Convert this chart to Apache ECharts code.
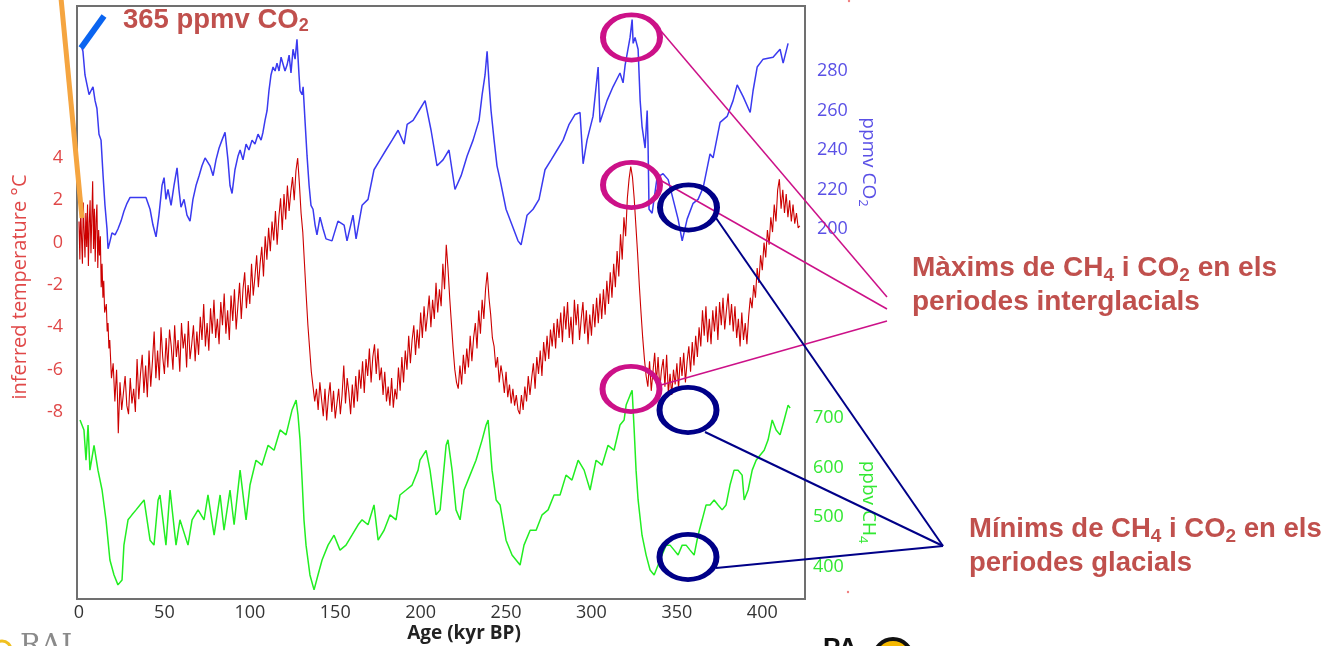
<!DOCTYPE html>
<html><head><meta charset="utf-8">
<script src="https://cdn.jsdelivr.net/npm/echarts@6/dist/echarts.min.js"></script>
<style>html,body{margin:0;padding:0;background:#fff}#c{width:1329px;height:646px}</style>
</head><body><div id="c"></div>
<script>
// ---- data: [age kyr BP, value] ----
const ageTicks = [0,50,100,150,200,250,300,350,400];
const tempTicks = [-8,-6,-4,-2,0,2,4];
const co2Ticks = [200,220,240,260,280];
const ch4Ticks = [400,500,600,700];

const co2Data = [[1.2,293],[2.3,290],[3.5,278],[4.7,273],[5.9,268],[7.0,270],[8.2,272],[9.4,265],[10.5,261],[11.7,248],[12.9,245],[14.1,227],[15.2,212],[16.4,200],[17.0,190],[18.2,194],[19.3,198],[21.1,197],[22.8,200],[24.6,204],[26.3,209],[28.1,213],[29.9,216],[34.5,216],[39.2,216],[41.6,210],[43.3,202],[45.1,196],[46.8,207],[48.6,222],[49.8,226],[50.9,215],[52.1,220],[53.9,212],[55.6,222],[57.4,231],[58.5,220],[59.7,211],[61.5,215],[63.2,207],[65.0,204],[66.7,215],[68.5,222],[70.3,227],[72.0,232],[73.8,236],[74.9,237],[76.7,232],[78.5,227],[80.2,235],[82.0,241],[83.7,245],[85.5,249],[87.2,235],[88.4,222],[89.6,218],[91.3,230],[93.1,237],[94.3,240],[96.0,235],[97.8,243],[99.5,240],[101.3,245],[103.0,243],[104.8,248],[106.6,245],[107.7,249],[108.9,255],[110.1,260],[111.2,270],[112.4,278],[113.6,282],[114.8,280],[115.9,284],[117.1,280],[118.3,287],[119.4,286],[120.6,280],[121.8,283],[123.0,288],[124.1,279],[125.3,291],[126.5,286],[127.6,296],[128.8,278],[129.4,270],[130.6,268],[131.2,272],[132.3,255],[133.5,237],[134.7,222],[135.8,212],[137.0,210],[138.2,202],[139.3,197],[141.1,206],[142.9,200],[144.6,195],[148.1,194],[151.6,204],[155.2,202],[156.9,194],[160.4,207],[162.2,195],[165.7,212],[169.2,215],[172.7,230],[176.2,235],[179.7,240],[183.3,245],[186.8,250],[190.3,243],[192.1,253],[195.6,255],[199.1,260],[202.6,265],[206.1,250],[209.6,232],[213.1,235],[216.6,240],[220.1,220],[223.7,227],[227.2,237],[230.7,245],[234.2,255],[236.0,268],[237.7,278],[238.9,290],[240.1,273],[241.2,260],[243.0,245],[244.7,232],[246.5,225],[250.0,210],[253.5,202],[257.0,194],[258.8,192],[262.3,207],[265.8,210],[269.3,215],[272.8,230],[276.4,235],[279.9,240],[283.4,245],[286.9,253],[290.4,258],[293.3,259],[295.1,233],[297.4,245],[300.9,257],[303.9,282],[305.0,254],[309.1,265],[312.6,272],[316.7,279],[318.5,274],[319.7,283],[322.6,297],[323.8,306],[324.4,294],[325.5,297],[327.3,291],[328.5,265],[329.6,252],[331.4,241],[332.6,260],[333.1,244],[333.7,210],[335.5,208],[338.4,226],[341.9,228],[344.9,225],[347.8,215],[350.7,205],[353.1,194],[356.0,205],[359.5,213],[362.4,215],[365.4,221],[369.4,238],[371.2,236],[375.3,254],[379.4,257],[382.9,265],[385.3,273],[388.8,267],[392.9,259],[394.6,270],[397.0,282],[400.5,286],[406.3,287],[410.4,291],[412.2,284],[415.1,294]];

const tempData = [[0,1.0],[0.5,-0.8],[1,1.6],[1.5,0.2],[2,-1.0],[2.5,1.9],[3,0.6],[3.5,-0.7],[4,1.4],[4.5,-0.2],[5,1.8],[5.5,-1.1],[6,0.9],[6.5,2.0],[7,-0.5],[7.5,1.2],[8,2.9],[8.5,-0.3],[9,1.6],[9.5,-0.9],[10,1.1],[10.5,1.8],[11,-1.2],[11.5,0.6],
[12,-0.6],[12.5,0.3],[13,-2.1],[13.5,-1.0],[14,-2.6],[14.5,-1.8],[15,-3.3],[16,-2.9],[16.5,-4.2],[17,-3.8],[17.5,-5.0],[18,-4.6],
[19,-6.4],[20,-5.7],[21,-7.5],[22,-6.0],[22.5,-7.2],[23,-9.0],[24,-6.6],[25,-7.9],[26,-7.1],[27,-6.3],[28,-7.7],[29,-8.1],[30,-6.4],[31,-7.6],[32,-6.9],[33,-8.0],
[34,-5.5],[35,-7.4],[36,-6.2],[37,-5.3],[38,-7.1],[39,-5.8],[40,-7.3],[41,-5.1],[42,-6.8],[43,-5.6],
[44,-4.2],[45,-6.4],[46,-5.1],[47,-6.5],[48,-4.0],[49,-5.4],[50,-6.2],[51,-4.5],[52,-5.9],[53,-4.1],[54,-4.9],[55,-6.0],[56,-3.9],[57,-5.4],[58,-4.6],[59,-6.1],[60,-3.8],[61,-5.0],[62,-4.3],[63,-5.9],[64,-3.7],[65,-5.5],[66,-4.8],[67,-3.9],[68,-5.6],[69,-4.2],[70,-5.3],[71,-3.5],
[72,-4.6],[73,-2.9],[74,-4.9],[75,-3.8],[76,-5.1],[77,-3.1],[78,-4.3],[79,-2.7],[80,-4.5],[81,-3.6],[82,-4.8],[83,-2.8],[84,-3.9],[85,-2.4],[86,-4.3],[87,-3.2],[88,-4.6],[89,-2.5],[90,-3.7],[91,-2.2],[92,-4.1],[93,-3.0],[94,-1.9],
[95,-3.6],[96,-2.2],[97,-1.4],[98,-3.1],[99,-2.0],[100,-2.9],[101,-1.0],[102,-2.5],[103,-1.6],[104,-0.6],[105,-2.1],[106,-1.0],[107,-0.2],[108,-1.6],[109,0.3],[110,-0.8],[111,0.7],[112,-0.4],[113,1.0],[114,0.1],[115,1.5],[116,-0.1],[117,1.2],[118,2.1],[119,0.6],[120,2.3],[121,1.1],[122,2.7],[123,1.5],[124,2.4],[125,3.1],[126,2.0],[127,3.4],[128,4.0],
[129,2.8],[130,1.4],[131,0.5],[132,-1.0],[133,-2.5],[134,-3.9],[135,-5.0],[136,-6.1],[137,-6.8],[138,-7.5],[139,-6.9],
[140,-7.9],[141,-6.6],[142,-7.4],[143,-8.2],[144,-6.9],[145,-8.4],[146,-7.3],[147,-6.6],[148,-8.0],[149,-7.0],[150,-8.3],[151,-7.6],[152,-6.9],[153,-8.1],[154,-7.2],[155,-5.8],[156,-7.6],[157,-6.4],[158,-7.1],[159,-8.1],[160,-6.7],[161,-7.8],[162,-6.3],[163,-7.5],[164,-6.0],[165,-6.9],[166,-5.6],[167,-7.1],[168,-5.5],[169,-6.3],[170,-5.0],[171,-6.6],[172,-5.4],[173,-4.8],[174,-6.2],[175,-5.0],[176,-6.5],[177,-5.9],[178,-7.2],[179,-6.1],[180,-7.5],[181,-6.8],[182,-7.7],[183,-6.4],[184,-7.8],[185,-6.9],[186,-7.4],[187,-5.9],[188,-7.0],
[189,-5.4],[190,-6.6],[191,-5.1],[192,-6.0],[193,-4.4],[194,-5.7],[195,-4.6],[196,-3.9],[197,-5.3],[198,-4.1],[199,-5.0],[200,-3.3],[201,-4.5],[202,-3.0],[203,-4.2],[204,-3.4],[205,-2.5],[206,-4.0],[207,-2.7],[208,-3.6],[209,-1.9],[210,-3.3],[211,-2.2],[212,-3.0],[213,-1.0],[214,-2.2],[215,-0.1],
[216,-1.2],[217,-2.6],[218,-3.8],[219,-5.0],[220,-6.0],[221,-6.6],[222,-6.9],[223,-5.8],[224,-6.7],[225,-5.3],[226,-6.2],[227,-5.0],[228,-5.9],[229,-4.4],[230,-5.6],[231,-4.5],[232,-3.8],[233,-5.0],[234,-3.2],[235,-4.3],[236,-2.7],[237,-3.6],[238,-2.2],[239,-1.4],
[240,-2.6],[241,-3.4],[242,-4.5],[243,-4.9],[244,-5.9],[245,-5.4],[246,-6.6],[247,-5.8],[248,-6.3],[249,-7.1],[250,-6.1],[251,-7.3],[252,-6.7],[253,-7.6],[254,-6.9],[255,-7.7],[256,-7.2],[257,-7.9],[258,-8.1],
[259,-7.2],[260,-7.9],[261,-6.8],[262,-7.5],[263,-6.3],[264,-7.2],[265,-6.4],[266,-5.7],[267,-6.9],[268,-5.4],[269,-6.2],[270,-5.1],[271,-6.3],[272,-4.7],[273,-5.6],[274,-4.4],[275,-5.5],[276,-4.1],[277,-4.9],[278,-3.8],[279,-5.0],[280,-3.6],[281,-4.5],[282,-3.3],
[283,-4.7],[284,-3.0],[285,-4.1],[286,-2.8],[287,-4.5],[288,-3.5],[289,-4.8],[290,-2.7],[291,-3.9],[292,-2.9],[293,-4.6],[294,-3.6],[295,-2.8],[296,-4.3],[297,-3.2],[298,-4.8],[299,-3.4],[300,-4.4],[301,-2.9],[302,-4.0],[303,-2.6],[304,-3.8],[305,-2.4],
[306,-3.6],[307,-2.2],[308,-3.4],[309,-1.8],[310,-2.9],[311,-1.4],[312,-2.6],[313,-1.0],[314,-2.1],[315,-0.4],[316,-1.6],[317,0.4],[318,-0.8],[319,1.2],[320,0.3],[321,2.1],[322,3.0],[323,3.6],[324,3.1],[325,2.1],[326,0.8],[327,-0.5],[328,-2.0],[329,-3.3],[330,-4.5],[331,-5.5],[332,-6.3],[333,-6.8],
[334,-5.6],[335,-7.0],[336,-6.1],[337,-5.2],[338,-6.6],[339,-5.4],[340,-6.9],[341,-6.0],[342,-5.5],[343,-6.8],[344,-5.3],[345,-7.1],[346,-6.2],[347,-7.2],[348,-6.0],[349,-6.7],[350,-5.7],[351,-6.9],[352,-5.4],[353,-6.3],[354,-5.2],[355,-6.6],[356,-5.6],[357,-4.9],[358,-6.1],[359,-4.7],[360,-5.8],[361,-4.4],[362,-5.4],[363,-4.0],
[364,-4.9],[365,-3.2],[366,-4.4],[367,-3.0],[368,-4.7],[369,-3.6],[370,-4.8],[371,-3.2],[372,-4.2],[373,-3.0],[374,-4.6],[375,-2.8],[376,-3.9],[377,-2.6],[378,-4.1],[379,-3.2],[380,-2.4],[381,-3.9],[382,-2.9],[383,-4.2],[384,-3.0],[385,-4.5],[386,-3.6],[387,-4.9],[388,-3.3],[389,-4.6],[390,-3.8],[391,-4.8],[392,-3.5],
[393,-2.6],[394,-3.1],[395,-2.0],[396,-2.6],[397,-1.2],[398,-1.9],[399,-0.6],[400,-1.3],[401,0.0],[402,-0.7],[403,0.6],[404,-0.1],[405,1.2],[406,0.5],[407,1.8],[408,1.0],[409,2.5],[410,3.0],[411,1.6],[412,2.5],[413,1.4],[414,2.3],[415,1.2],[416,2.0],[417,1.0],[418,1.8],[419,0.9],[420,1.4],[421,0.7],[422,0.8]];

const ch4Data = [[0.6,696],[2.9,676],[4.1,615],[5.3,686],[6.4,595],[8.8,645],[11.1,595],[13.5,555],[15.8,495],[18.1,414],[20.5,384],[22.8,364],[25.2,374],[26.3,444],[28.7,495],[31.0,505],[33.4,515],[35.7,525],[38.1,535],[41.6,454],[43.9,444],[46.3,535],[47.4,545],[50.9,444],[53.3,555],[56.8,444],[59.1,495],[63.8,444],[66.2,495],[69.7,515],[73.2,495],[75.5,545],[79.1,464],[82.6,545],[84.9,474],[88.4,555],[90.8,485],[94.3,595],[97.8,495],[100.1,565],[103.6,615],[107.1,605],[110.7,645],[114.2,635],[117.7,676],[121.2,666],[124.7,716],[127.1,736],[128.2,706],[129.4,656],[130.6,575],[131.7,495],[132.9,444],[135.2,384],[137.6,354],[139.9,384],[142.3,414],[145.8,444],[149.3,464],[152.8,434],[156.3,444],[159.8,464],[163.4,485],[165.7,495],[169.2,485],[172.7,525],[175.1,454],[178.6,474],[182.1,505],[185.6,495],[187.9,545],[191.5,555],[195.0,565],[198.5,595],[199.6,615],[203.2,635],[205.5,595],[209.0,505],[211.4,515],[214.9,645],[216.0,656],[218.4,595],[220.7,515],[223.1,495],[225.4,555],[228.9,585],[232.4,615],[236.0,656],[238.3,686],[239.5,696],[241.8,595],[244.2,535],[246.5,525],[250.0,454],[253.5,424],[258.2,404],[260.5,444],[264.1,474],[267.6,474],[271.1,505],[274.6,515],[278.1,545],[281.6,545],[285.1,585],[288.6,575],[292.2,615],[295.7,595],[299.2,555],[302.7,615],[306.2,605],[309.7,645],[313.2,635],[316.7,686],[319.1,696],[320.3,726],[322.6,746],[323.8,756],[325.0,676],[326.1,595],[327.3,535],[329.6,464],[332.0,424],[334.3,394],[336.7,384],[339.0,404],[341.3,424],[343.7,444],[346.0,444],[348.4,434],[350.7,424],[353.1,444],[355.4,444],[357.7,434],[360.1,424],[362.4,464],[364.8,495],[367.1,525],[369.4,525],[371.8,535],[374.1,525],[376.5,515],[378.8,525],[381.1,565],[383.5,595],[385.8,595],[388.2,585],[389.4,535],[391.7,555],[394.1,595],[396.4,615],[398.7,625],[401.1,635],[403.4,656],[405.8,696],[408.1,676],[410.4,666],[412.8,696],[415.1,726],[416.3,720]];

// ---- layout ----
const L = 79, R = 1329 - 805, AGE_MAX = 425;
const cRed = '#cc0000', cBlue = '#3a3af0', cGreen = '#22ee22';
const cRedLab = '#e04848', cBlueLab = '#5a50e6', cGreenLab = '#33e833';
const cNote = '#c0504d', cMag = '#cc1188', cNavy = '#000088';
const tickFont = 'Open Sans';

function hiddenX(gi){ return {type:'value', gridIndex:gi, min:0, max:AGE_MAX, show:false}; }
function yAx(gi, min, max, interval, pos, color, margin){
  return {type:'value', gridIndex:gi, min, max, interval, position:pos,
    axisLine:{show:false}, axisTick:{show:false}, splitLine:{show:false},
    axisLabel:{color, fontSize:18, fontFamily:tickFont, margin}};
}
function ellipse(cx, cy, color){
  return {type:'circle', x:cx, y:cy, scaleX:1, scaleY:0.79, z:50,
    shape:{cx:0, cy:0, r:28.5},
    style:{fill:'none', stroke:color, lineWidth:6, strokeNoScale:true}};
}
function seg(x1,y1,x2,y2,color,w){
  return {type:'line', z:49, shape:{x1,y1,x2,y2}, style:{stroke:color, lineWidth:w}};
}
function noteRich(size){
  return {
    a:{fontSize:size, fontWeight:'bold', fontFamily:'Liberation Sans', fill:cNote, lineHeight:34},
    s:{fontSize:19, fontWeight:'bold', fontFamily:'Liberation Sans', fill:cNote, lineHeight:16, verticalAlign:'bottom'}
  };
}

const chart = echarts.init(document.getElementById('c'), null, {renderer:'canvas'});
chart.setOption({
  animation:false,
  backgroundColor:'#fff',
  grid:[
    {left:L, right:R, top:6, bottom:47},
    {left:L, right:R, top:158, height:254},
    {left:L, right:R, top:71, height:158},
    {left:L, right:R, top:418, height:149}
  ],
  xAxis:[
    {type:'value', gridIndex:0, min:0, max:AGE_MAX, interval:50,
      axisLine:{show:false}, axisTick:{show:false}, splitLine:{show:false},
      axisLabel:{color:'#333', fontSize:18, fontFamily:tickFont, margin:5,
        formatter:v => ageTicks.includes(v) ? String(v) : ''}},
    hiddenX(1), hiddenX(2), hiddenX(3)
  ],
  yAxis:[
    {type:'value', gridIndex:0, min:0, max:1, show:false},
    yAx(1, tempTicks[0], tempTicks[tempTicks.length-1], 2, 'left', cRedLab, 16),
    yAx(2, co2Ticks[0], co2Ticks[co2Ticks.length-1], 20, 'right', cBlueLab, 12),
    yAx(3, ch4Ticks[0], ch4Ticks[ch4Ticks.length-1], 100, 'right', cGreenLab, 8)
  ],
  series:[
    {type:'line', xAxisIndex:3, yAxisIndex:3, data:ch4Data, showSymbol:false, clip:false,
      lineStyle:{color:cGreen, width:1.5}, z:3},
    {type:'line', xAxisIndex:1, yAxisIndex:1, data:tempData, showSymbol:false, clip:false,
      lineStyle:{color:cRed, width:1.1}, z:4},
    {type:'line', xAxisIndex:2, yAxisIndex:2, data:co2Data, showSymbol:false, clip:false,
      lineStyle:{color:cBlue, width:1.5}, z:5}
  ],
  graphic:[
    {type:'rect', z:40, shape:{x:77, y:6, width:728, height:593}, style:{fill:'none', stroke:'#707070', lineWidth:2}},
    // axis titles
    {type:'text', x:20, y:287, rotation:Math.PI/2, z:40,
      style:{text:'inferred temperature °C', font:'20px "Open Sans"', fill:cRedLab, align:'center', verticalAlign:'middle'}},
    {type:'text', x:868, y:162, rotation:-Math.PI/2, z:40,
      style:{text:'{a|ppmv CO}{s|2}', align:'center', verticalAlign:'middle',
        rich:{a:{fontSize:19, fontFamily:'Open Sans', fill:cBlueLab, lineHeight:24}, s:{fontSize:13, fontFamily:'Open Sans', fill:cBlueLab, lineHeight:13, verticalAlign:'bottom'}}}},
    {type:'text', x:868, y:502, rotation:-Math.PI/2, z:40,
      style:{text:'{a|ppbv CH}{s|4}', align:'center', verticalAlign:'middle',
        rich:{a:{fontSize:19, fontFamily:'Open Sans', fill:cGreenLab, lineHeight:24}, s:{fontSize:13, fontFamily:'Open Sans', fill:cGreenLab, lineHeight:13, verticalAlign:'bottom'}}}},
    {type:'text', x:464, y:634, z:40,
      style:{text:'Age (kyr BP)', font:'bold 19px "Open Sans"', fill:'#222', align:'center', verticalAlign:'middle'}},
    // highlight strokes
    seg(61,-2,82,218,'#f5a540',5),
    seg(81,48,104,16,'#0a64f0',6),
    {type:'text', x:123, y:20, z:50,
      style:{text:'{a|365 ppmv CO}{s|2}', align:'left', verticalAlign:'middle',
        rich:{a:{fontSize:27.5, fontWeight:'bold', fontFamily:'Liberation Sans', fill:cNote, lineHeight:30}, s:{fontSize:18, fontWeight:'bold', fontFamily:'Liberation Sans', fill:cNote, lineHeight:14, verticalAlign:'bottom'}}}},
    // ellipses
    ellipse(631.5,37.5,cMag), ellipse(631.5,185,cMag), ellipse(631,389,cMag),
    ellipse(688.5,207.5,cNavy), ellipse(688,410,cNavy), ellipse(688,557,cNavy),
    // connectors
    seg(661,31,887,297,cMag,1.5), seg(660,180,887,309,cMag,1.5), seg(661,385,887,321,cMag,1.5),
    seg(716,218,943,546,cNavy,2), seg(705,432,943,546,cNavy,2), seg(716,568,943,546,cNavy,2),
    // notes
    {type:'text', x:912, y:251, z:50,
      style:{text:'{a|Màxims de CH}{s|4}{a| i CO}{s|2}{a| en els}\n{a|periodes interglacials}', align:'left', verticalAlign:'top', rich:noteRich(28)}},
    {type:'text', x:969, y:512, z:50,
      style:{text:'{a|Mínims de CH}{s|4}{a| i CO}{s|2}{a| en els}\n{a|periodes glacials}', align:'left', verticalAlign:'top', rich:noteRich(27.5)}},
    // partial logos at the bottom edge and stray dots
    {type:'circle', z:30, shape:{cx:2, cy:650, r:9}, style:{fill:'none', stroke:'#f0c020', lineWidth:3}},
    {type:'text', x:20, y:633, z:30, style:{text:'RAL', font:'28px "DejaVu Serif"', fill:'#8a8a8a', align:'left', verticalAlign:'top'}},
    {type:'text', x:823, y:636, z:30, style:{text:'PA', font:'bold 26px "Liberation Sans"', fill:'#111', align:'left', verticalAlign:'top'}},
    {type:'circle', z:30, shape:{cx:893, cy:658, r:19}, style:{fill:'#f5b800', stroke:'#111', lineWidth:4}},
    {type:'circle', z:30, shape:{cx:849, cy:1, r:1.2}, style:{fill:'#f08080'}},
    {type:'circle', z:30, shape:{cx:848, cy:592, r:1.2}, style:{fill:'#f08080'}}
  ]
});
</script></body></html>
